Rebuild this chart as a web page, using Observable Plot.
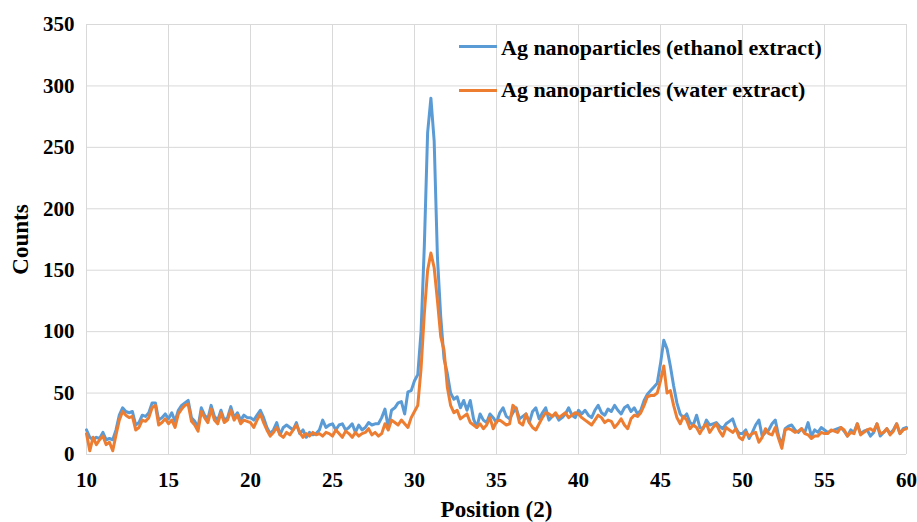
<!DOCTYPE html>
<html>
<head>
<meta charset="utf-8">
<script src="https://cdn.jsdelivr.net/npm/d3@7"></script>
<script src="https://cdn.jsdelivr.net/npm/@observablehq/plot@0.6"></script>
<style>
  html, body { margin: 0; padding: 0; background: #fff; }
  #chart { position: relative; width: 917px; height: 522px; overflow: hidden; }
  #chart svg { display: block; }
  .lg-line { position: absolute; height: 3px; width: 38px; }
  .lg-text { position: absolute; font-family: "Liberation Serif", "Times New Roman", serif; font-weight: bold; font-size: 22px; line-height: 22px; color: #000; white-space: nowrap; }
</style>
</head>
<body>
<div id="chart"></div>
<script>
// Sampling grid: 2θ positions from 10 to 60, every 0.2
const positions = d3.range(0, 251).map(i => Math.round((10 + i * 0.2) * 10) / 10);

const seriesNames = ["Ag nanoparticles (ethanol extract)", "Ag nanoparticles (water extract)"];
const seriesColors = ["#5b9bd5", "#ed7d31"];

// Counts (ethanol extract)
const ethanol = [
  20, 14, 12, 14, 13,
  18, 12, 13, 12, 20,
  32, 38, 35, 34, 35,
  24, 26, 32, 31, 34,
  42, 42, 28, 30, 33,
  29, 34, 27, 36, 40,
  42, 44, 30, 27, 22,
  38, 32, 29, 40, 31,
  28, 36, 28, 30, 39,
  30, 34, 28, 32, 30,
  30, 28, 32, 36, 30,
  22, 17, 20, 26, 16,
  22, 24, 22, 20, 26,
  17, 20, 14, 18, 16,
  17, 20, 28, 22, 24,
  25, 20, 24, 25, 20,
  22, 25, 18, 24, 20,
  22, 26, 24, 25, 25,
  30, 37, 22, 36, 38,
  42, 43, 33, 51, 52,
  60, 65, 100, 170, 262,
  290, 255, 160, 112, 78,
  66, 50, 45, 47, 38,
  44, 36, 44, 29, 22,
  33, 28, 26, 33, 30,
  26, 34, 38, 31, 29,
  34, 38, 29, 31, 33,
  26, 35, 38, 29, 34,
  38, 28, 31, 33, 28,
  30, 33, 38, 32, 30,
  36, 33, 36, 32, 30,
  36, 40, 34, 32, 37,
  35, 40, 36, 33, 38,
  40, 35, 38, 33, 36,
  44, 49, 52, 55, 58,
  74, 93, 86, 72, 56,
  42, 33, 30, 33, 26,
  24, 32, 22, 21, 28,
  24, 25, 26, 23, 21,
  25, 27, 29, 21, 17,
  17, 20, 13, 18, 24,
  28, 15, 18, 20, 25,
  28, 15, 8, 21, 23,
  24, 20, 18, 21, 18,
  26, 15, 20, 18, 22,
  20, 18, 19, 20, 21,
  22, 19, 15, 20, 18,
  25, 17, 19, 20, 15,
  18, 25, 15, 18, 21,
  17, 20, 25, 17, 21,
  22
];

// Counts (water extract)
const water = [
  17, 3, 14, 8, 12,
  15, 8, 10, 3, 16,
  28, 35, 32, 30, 31,
  20, 22, 28, 27, 30,
  38, 40, 24, 26, 29,
  25, 28, 22, 33, 37,
  40, 41, 27, 24, 19,
  35, 30, 26, 37, 28,
  25, 34, 26, 28, 36,
  28, 32, 25, 28, 27,
  26, 22, 28, 33, 26,
  20, 15, 18, 22, 16,
  14, 18, 16, 20, 24,
  18, 14, 17, 15, 18,
  16, 17, 15, 18, 17,
  15, 20, 17, 14, 19,
  17, 14, 18, 15, 17,
  18, 21, 16, 18, 15,
  17, 25, 20, 28, 26,
  24, 28, 25, 22, 30,
  35, 40, 70, 115, 150,
  164, 152, 125, 96, 85,
  55, 40, 34, 36, 29,
  31, 33, 26, 24, 22,
  25, 21, 24, 30, 21,
  27, 28, 26, 24, 25,
  40, 37, 26, 24, 33,
  26, 22, 20, 25, 30,
  34, 33, 31, 34, 30,
  32, 34, 30, 32, 34,
  33, 30, 28, 26, 24,
  28, 32, 30, 26, 28,
  27, 22, 25, 29, 24,
  21, 29, 32, 31, 34,
  40, 47, 48, 48, 50,
  60, 72, 50, 52, 40,
  30, 25, 31, 28, 21,
  24, 22, 17, 22, 25,
  18, 22, 25, 19, 15,
  22, 20, 18, 21, 14,
  12, 18, 15, 17, 18,
  10, 14, 21, 17, 16,
  22, 13, 5, 20, 21,
  20, 18, 19, 21, 17,
  16, 13, 15, 15, 18,
  17, 17, 20, 19, 18,
  22, 20, 15, 18, 17,
  25, 16, 18, 20, 21,
  19, 25, 17, 18, 21,
  16, 19, 25, 17, 20,
  21
];

const xTicks = [10, 15, 20, 25, 30, 35, 40, 45, 50, 55, 60];
const yTicks = [0, 50, 100, 150, 200, 250, 300, 350];
const xTitle = "Position (2)";
const yTitle = "Counts";

const dEth = positions.map((p, i) => ({pos: p, v: ethanol[i]}));
const dWat = positions.map((p, i) => ({pos: p, v: water[i]}));

const grid = "#d9d9d9";
const chart = Plot.plot({
  width: 917,
  height: 522,
  marginLeft: 86,
  marginRight: 11,
  marginTop: 24,
  marginBottom: 68,
  x: {domain: [10, 60]},
  y: {domain: [0, 350]},
  style: {fontFamily: "'Liberation Serif', 'Times New Roman', serif", fontWeight: "bold", fontSize: "21px", color: "#000", background: "#fff"},
  marks: [
    Plot.gridX(xTicks, {stroke: grid, strokeOpacity: 1, strokeWidth: 1}),
    Plot.gridY(yTicks, {stroke: grid, strokeOpacity: 1, strokeWidth: 1}),
    Plot.axisX(xTicks, {tickSize: 0, tickPadding: 18, label: null, fontSize: 21, fontWeight: "bold"}),
    Plot.axisY(yTicks, {tickSize: 0, tickPadding: 12, label: null, fontSize: 21, fontWeight: "bold"}),
    Plot.text([xTitle], {frameAnchor: "bottom", dy: 62, fontSize: 23, fontWeight: "bold", fill: "#000"}),
    Plot.text([yTitle], {frameAnchor: "left", textAnchor: "middle", dx: -66, rotate: -90, fontSize: 23, fontWeight: "bold", fill: "#000"}),
    Plot.line(dEth, {x: "pos", y: "v", stroke: seriesColors[0], strokeWidth: 3, strokeLinejoin: "round"}),
    Plot.line(dWat, {x: "pos", y: "v", stroke: seriesColors[1], strokeWidth: 3, strokeLinejoin: "round"})
  ]
});
const root = document.getElementById("chart");
root.appendChild(chart);

// Legend (inside the plot area, top right)
const legendPos = [{lineTop: 45, textTop: 37}, {lineTop: 89, textTop: 79}];
seriesNames.forEach((name, i) => {
  const ln = document.createElement("div");
  ln.className = "lg-line";
  ln.style.left = "459px";
  ln.style.top = legendPos[i].lineTop + "px";
  ln.style.background = seriesColors[i];
  root.appendChild(ln);
  const tx = document.createElement("div");
  tx.className = "lg-text";
  tx.style.left = "501px";
  tx.style.top = legendPos[i].textTop + "px";
  tx.textContent = name;
  root.appendChild(tx);
});
</script>
</body>
</html>
